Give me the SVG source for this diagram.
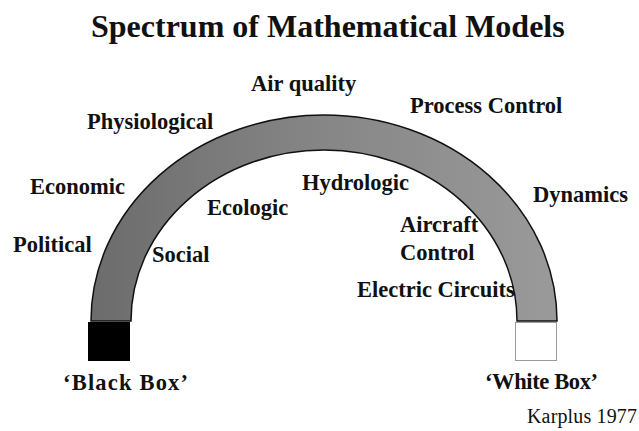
<svg xmlns="http://www.w3.org/2000/svg" width="639" height="431" viewBox="0 0 639 431">
<style>
text{font-family:"Liberation Serif","Times New Roman",serif;fill:#111}
.lbl{font-size:22.5px;font-weight:bold}
.ttl{font-size:32px;font-weight:bold}
.cite{font-size:20px}
</style>
<defs>
<linearGradient id="band" x1="91" y1="0" x2="557" y2="0" gradientUnits="userSpaceOnUse">
<stop offset="0" stop-color="#6c6c6c"/>
<stop offset="0.5" stop-color="#868686"/>
<stop offset="1" stop-color="#9a9a9a"/>
</linearGradient>
</defs>
<rect width="639" height="431" fill="#fff"/>
<text class="ttl" x="91" y="37">Spectrum of Mathematical Models</text>
<g id="arch">
<path d="M91 321 A233 206 0 0 1 557 321 L517 321 A193 171 0 0 0 131 321 Z" fill="url(#band)" stroke="#111" stroke-width="1.5"/>
</g>
<g id="black-box">
<rect x="88" y="322" width="42" height="39" fill="#000"/>
<text class="lbl" x="63" y="390" textLength="125">‘Black Box’</text>
</g>
<g id="white-box">
<rect x="515.5" y="322.5" width="41" height="38" fill="#fff" stroke="#9a9a9a" stroke-width="1"/>
<text class="lbl" x="485" y="389" textLength="113">‘White Box’</text>
</g>
<g id="air-quality"><text class="lbl" x="251" y="91">Air quality</text></g>
<g id="process-control"><text class="lbl" x="410" y="113">Process Control</text></g>
<g id="physiological"><text class="lbl" x="87" y="129">Physiological</text></g>
<g id="economic"><text class="lbl" x="30" y="194">Economic</text></g>
<g id="hydrologic"><text class="lbl" x="302" y="190">Hydrologic</text></g>
<g id="ecologic"><text class="lbl" x="207" y="215">Ecologic</text></g>
<g id="dynamics"><text class="lbl" x="533" y="202">Dynamics</text></g>
<g id="aircraft-control"><text class="lbl" x="400" y="232">Aircraft</text><text class="lbl" x="400" y="260">Control</text></g>
<g id="political"><text class="lbl" x="13" y="252">Political</text></g>
<g id="social"><text class="lbl" x="152" y="262">Social</text></g>
<g id="electric-circuits"><text class="lbl" x="357" y="297">Electric Circuits</text></g>
<text class="cite" x="527" y="423" textLength="110">Karplus 1977</text>
</svg>
